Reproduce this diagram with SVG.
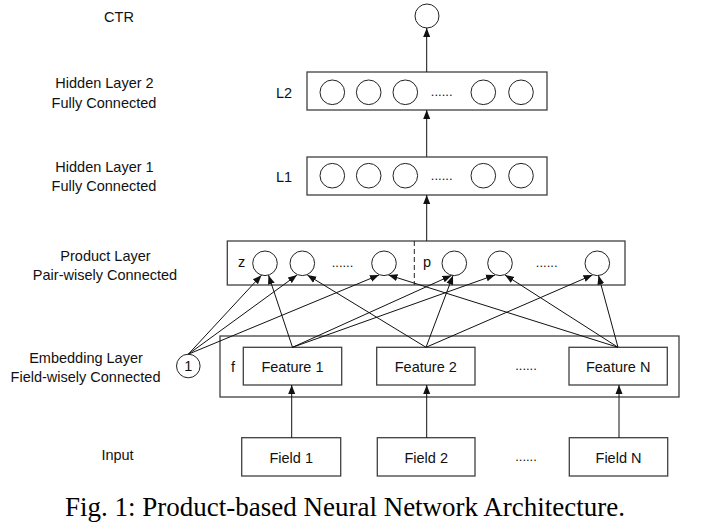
<svg xmlns="http://www.w3.org/2000/svg" width="704" height="530" viewBox="0 0 704 530">
<defs>
<style>
.t{font-family:"Liberation Sans",Arial,sans-serif;font-size:14.5px;fill:#111;text-anchor:middle}
.d{font-family:"Liberation Sans",Arial,sans-serif;font-size:13px;fill:#111;text-anchor:middle}
.box{fill:#fff;stroke:#404040;stroke-width:1.3}
.nd{fill:#fff;stroke:#222;stroke-width:1}
.c{stroke:#111;stroke-width:1;fill:none;marker-end:url(#ah)}
.cap{font-family:"Liberation Serif","Times New Roman",serif;font-size:27px;fill:#000;text-anchor:middle}
</style>
<marker id="ah" markerWidth="10" markerHeight="8" refX="9" refY="4" orient="auto" markerUnits="userSpaceOnUse"><path d="M0,0.5 L9,4 L0,7.5 z" fill="#111"/></marker>
</defs>
<rect width="704" height="530" fill="#fff"/>

<g id="labels">
<text class="t" x="119" y="22">CTR</text>
<text class="t" x="104.5" y="88">Hidden Layer 2</text>
<text class="t" x="104" y="107.5">Fully Connected</text>
<text class="t" x="104.5" y="172">Hidden Layer 1</text>
<text class="t" x="104" y="191">Fully Connected</text>
<text class="t" x="105.5" y="261">Product Layer</text>
<text class="t" x="105" y="279.5">Pair-wisely Connected</text>
<text class="t" x="86" y="363">Embedding Layer</text>
<text class="t" x="85.5" y="382">Field-wisely Connected</text>
<text class="t" x="117.5" y="459.5">Input</text>
</g>

<g id="ctr"><circle class="nd" cx="427" cy="16" r="12"/></g>

<g id="hidden2">
<rect class="box" x="307" y="72" width="240" height="38"/>
<text class="t" x="284" y="98">L2</text>
<circle class="nd" cx="332.3" cy="92.3" r="12.3"/>
<circle class="nd" cx="368.7" cy="92.3" r="12.3"/>
<circle class="nd" cx="405.3" cy="92.3" r="12.3"/>
<text class="d" x="441.7" y="96">......</text>
<circle class="nd" cx="483.3" cy="92.3" r="12.3"/>
<circle class="nd" cx="521" cy="92.3" r="12.3"/>
</g>

<g id="hidden1">
<rect class="box" x="307" y="157" width="240" height="38"/>
<text class="t" x="284" y="181.7">L1</text>
<circle class="nd" cx="332.3" cy="175.7" r="12.3"/>
<circle class="nd" cx="368.7" cy="175.7" r="12.3"/>
<circle class="nd" cx="405.3" cy="175.7" r="12.3"/>
<text class="d" x="441.7" y="179.5">......</text>
<circle class="nd" cx="483.3" cy="175.7" r="12.3"/>
<circle class="nd" cx="521" cy="175.7" r="12.3"/>
</g>

<g id="product">
<rect class="box" x="227.3" y="241" width="397.7" height="44"/>
<line x1="414.3" y1="241" x2="414.3" y2="285" stroke="#222" stroke-width="1" stroke-dasharray="5,3"/>
<text class="t" x="241.7" y="266.7">z</text>
<circle class="nd" cx="265" cy="263.3" r="12.3"/>
<circle class="nd" cx="302.3" cy="263.3" r="12.3"/>
<text class="d" x="342.5" y="267">......</text>
<circle class="nd" cx="384" cy="263.3" r="12.3"/>
<text class="t" x="427" y="266.7">p</text>
<circle class="nd" cx="454.3" cy="263.3" r="12.3"/>
<circle class="nd" cx="500" cy="263.3" r="12.3"/>
<text class="d" x="546.7" y="267">......</text>
<circle class="nd" cx="597.3" cy="263.3" r="12.3"/>
</g>

<g id="embedding">
<rect class="box" x="220" y="336" width="459" height="61"/>
<text class="t" x="233" y="371.7">f</text>
<text class="d" x="526" y="370">......</text>
</g>
<g id="feature1"><rect class="box" x="243.3" y="347.3" width="98.4" height="37.7"/><text class="t" x="292.5" y="371.7">Feature 1</text></g>
<g id="feature2"><rect class="box" x="376.7" y="347.3" width="98.3" height="37.7"/><text class="t" x="425.8" y="371.7">Feature 2</text></g>
<g id="featureN"><rect class="box" x="569" y="347.3" width="98.3" height="37.7"/><text class="t" x="618.2" y="371.7">Feature N</text></g>

<g id="bias"><circle class="nd" cx="188.3" cy="366" r="11.8"/><text class="t" x="188.3" y="371">1</text></g>

<g id="field1"><rect class="box" x="241.7" y="437.7" width="99" height="38.3"/><text class="t" x="291.2" y="462.7">Field 1</text></g>
<g id="field2"><rect class="box" x="377.3" y="437.7" width="97.7" height="38.3"/><text class="t" x="426.2" y="462.7">Field 2</text></g>
<g id="fieldN"><rect class="box" x="569.3" y="437.7" width="98.4" height="38.3"/><text class="t" x="618.5" y="462.7">Field N</text></g>
<text class="d" x="526" y="461">......</text>

<g id="connectors">
<line class="c" x1="426.7" y1="72" x2="426.7" y2="28"/>
<line class="c" x1="426.7" y1="156.7" x2="426.7" y2="110"/>
<line class="c" x1="426.7" y1="241" x2="426.7" y2="195"/>
<line class="c" x1="291.7" y1="437.7" x2="291.7" y2="385"/>
<line class="c" x1="426.7" y1="437.7" x2="426.7" y2="385"/>
<line class="c" x1="619" y1="437.7" x2="619" y2="385"/>

<line class="c" x1="188.3" y1="354.2" x2="261.5" y2="275.2"/>
<line class="c" x1="188.3" y1="354.2" x2="297" y2="275"/>
<line class="c" x1="188.3" y1="354.2" x2="379" y2="275"/>
<line class="c" x1="292.5" y1="347.3" x2="268.5" y2="275.2"/>
<line class="c" x1="292.5" y1="347.3" x2="451.5" y2="275.4"/>
<line class="c" x1="292.5" y1="347.3" x2="495" y2="275"/>
<line class="c" x1="426" y1="347.3" x2="307.3" y2="275"/>
<line class="c" x1="426" y1="347.3" x2="453" y2="275.6"/>
<line class="c" x1="426" y1="347.3" x2="592.5" y2="275"/>
<line class="c" x1="618" y1="347.3" x2="388.5" y2="275"/>
<line class="c" x1="618" y1="347.3" x2="505" y2="275"/>
<line class="c" x1="618" y1="347.3" x2="598.5" y2="275.5"/>
</g>

<text class="cap" x="345" y="516">Fig. 1: Product-based Neural Network Architecture.</text>
</svg>
